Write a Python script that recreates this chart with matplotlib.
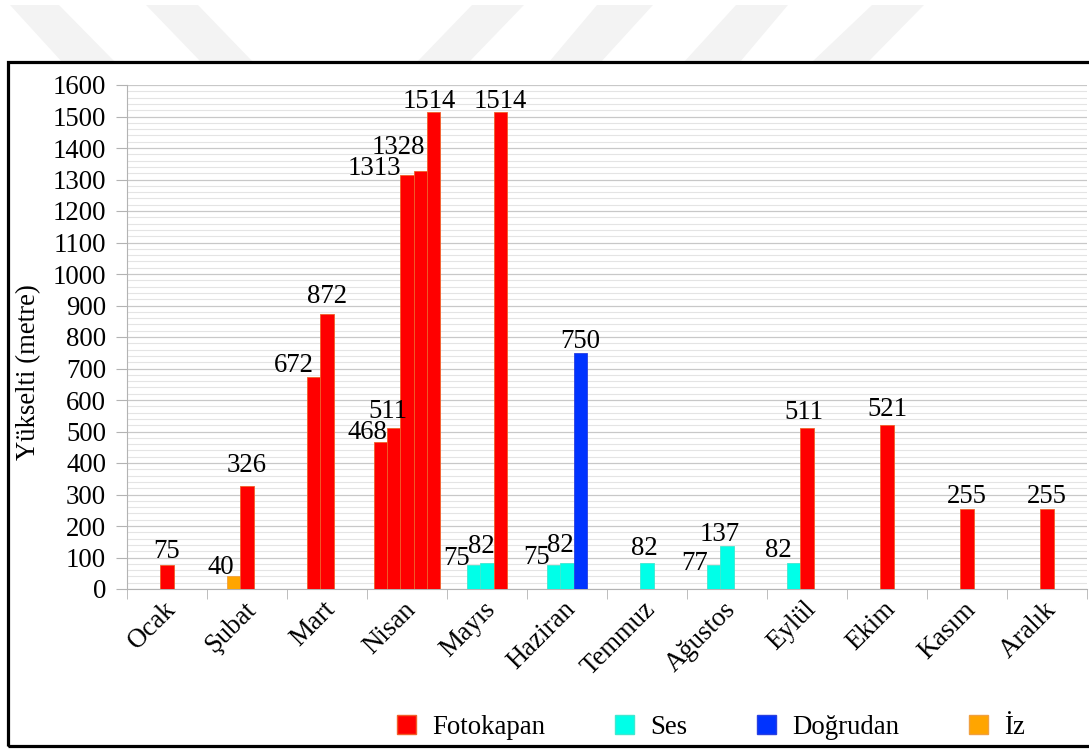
import matplotlib.pyplot as plt
import matplotlib.transforms as mtransforms
from matplotlib.patches import Rectangle, Polygon, Patch
import numpy as np

plt.rcParams['font.family'] = ['Liberation Serif', 'DejaVu Serif']

# data: bars per month, in drawing order
months = ['Ocak', 'Şubat', 'Mart', 'Nisan', 'Mayıs', 'Haziran', 'Temmuz',
          'Ağustos', 'Eylül', 'Ekim', 'Kasım', 'Aralık']
values = [[75], [40, 326], [672, 872], [468, 511, 1313, 1328, 1514],
          [75, 82, 1514], [75, 82, 750], [82], [77, 137], [82, 511],
          [521], [255], [255]]
kinds = [['F'], ['I', 'F'], ['F', 'F'], ['F', 'F', 'F', 'F', 'F'],
         ['S', 'S', 'F'], ['S', 'S', 'D'], ['S'], ['S', 'S'], ['S', 'F'],
         ['F'], ['F'], ['F']]
kind_names = {'F': 'Fotokapan', 'S': 'Ses', 'D': 'Doğrudan', 'I': 'İz'}
yticks = np.arange(0, 1601, 100)

# styling (pixel offsets of the value labels relative to bar top centre)
colors = {'F': '#ff0000', 'S': '#00ffe8', 'D': '#0033ff', 'I': '#ffa500'}
edges = {'F': '#f0602a', 'S': '#40e8d0', 'D': '#2a40e0', 'I': '#f0a040'}
label_dx = [[0], [-13, 0], [-20, 0], [-13, -6, -33, -22, -4], [-17, -6, 0],
            [-17, -7, 0], [-3], [-19, -7], [-15, -3], [0], [0], [0]]
label_dy = [[7], [2, 14], [5, 11], [3, 10, 0, 17, 4], [0, 10, 4],
            [1, 11, 5], [8], [-5, 5], [6, 9], [9], [6], [6]]

FS = 19.3
W, H = 1089, 749
fig = plt.figure(figsize=(W / 100, H / 100), dpi=100)


def px(x, y):
    return x / W, 1 - y / H


# faint watermark stripes at the top
stripes = [((10, 59), (62, 115)), ((146, 198), (201, 253)),
           ((472, 524), (417, 469)), ((597, 653), (549, 601)),
           ((736, 788), (684, 740)), ((872, 924), (812, 868))]
for (t0, t1), (b0, b1) in stripes:
    fig.patches.append(Polygon([px(t0, 5), px(t1, 5), px(b1, 62), px(b0, 62)],
                               closed=True, transform=fig.transFigure,
                               facecolor='#f3f3f3', edgecolor='none'))

# black frame
x0, y0 = px(8, 746)
x1, y1 = px(1100, 62)
fig.patches.append(Rectangle((x0, y0), x1 - x0, y1 - y0, transform=fig.transFigure,
                             fill=False, edgecolor='black', linewidth=2.3))

ax = fig.add_axes([127 / W, 1 - 589 / H, 960 / W, 504 / H])

w = 1 / 6
for i, (vals, ks) in enumerate(zip(values, kinds)):
    n = len(vals)
    xs = i + (np.arange(n) - n // 2) * w
    ax.bar(xs, vals, width=w, color=[colors[k] for k in ks],
           edgecolor=[edges[k] for k in ks], linewidth=0.6, zorder=3)
    for x, v, dx, dy in zip(xs, vals, label_dx[i], label_dy[i]):
        ax.annotate(str(v), (x, v), xytext=(dx, dy), textcoords='offset pixels',
                    ha='center', va='baseline', fontsize=FS, color='black')

ax.set_xlim(-0.5, 11.5)
ax.set_ylim(0, 1600)
ax.set_yticks(yticks)
ax.set_yticks(np.arange(0, 1601, 20), minor=True)
ax.set_xticks(range(len(months)))
ax.set_xticks(np.arange(-0.5, len(months)), minor=True)
ax.set_xticklabels(months, rotation=45, ha='right', va='center',
                   rotation_mode='anchor', fontsize=FS)
ax.tick_params(axis='y', which='major', length=8, color='#b3b3b3', labelsize=FS, pad=7)
ax.tick_params(axis='y', which='minor', length=0)
ax.tick_params(axis='x', which='major', length=0, pad=12)
ax.tick_params(axis='x', which='minor', length=7.5, color='#b3b3b3')

shift = mtransforms.ScaledTranslation(5 / 100, 0, fig.dpi_scale_trans)
for lab in ax.get_xticklabels():
    lab.set_transform(lab.get_transform() + shift)

ax.grid(axis='y', which='major', color='#c8c8c8', linewidth=0.9)
ax.grid(axis='y', which='minor', color='#e4e4e4', linewidth=0.8)
ax.set_axisbelow(True)
for s in ['top', 'right']:
    ax.spines[s].set_visible(False)
for s in ['left', 'bottom']:
    ax.spines[s].set_color('#b3b3b3')

fig.text(29 / W, 1 - 372 / H, 'Yükselti (metre)', rotation=90,
         ha='center', va='center', fontsize=FS)

handles = [Patch(facecolor=colors[k], edgecolor=edges[k], label=kind_names[k])
           for k in ['F', 'S', 'D', 'I']]
fig.legend(handles=handles, loc='center', bbox_to_anchor=px(711, 727), ncol=4,
           frameon=False, fontsize=FS, handlelength=0.72, handleheight=0.72,
           handletextpad=0.6, columnspacing=2.6, borderaxespad=0)

fig.savefig('out.png', dpi=100)
